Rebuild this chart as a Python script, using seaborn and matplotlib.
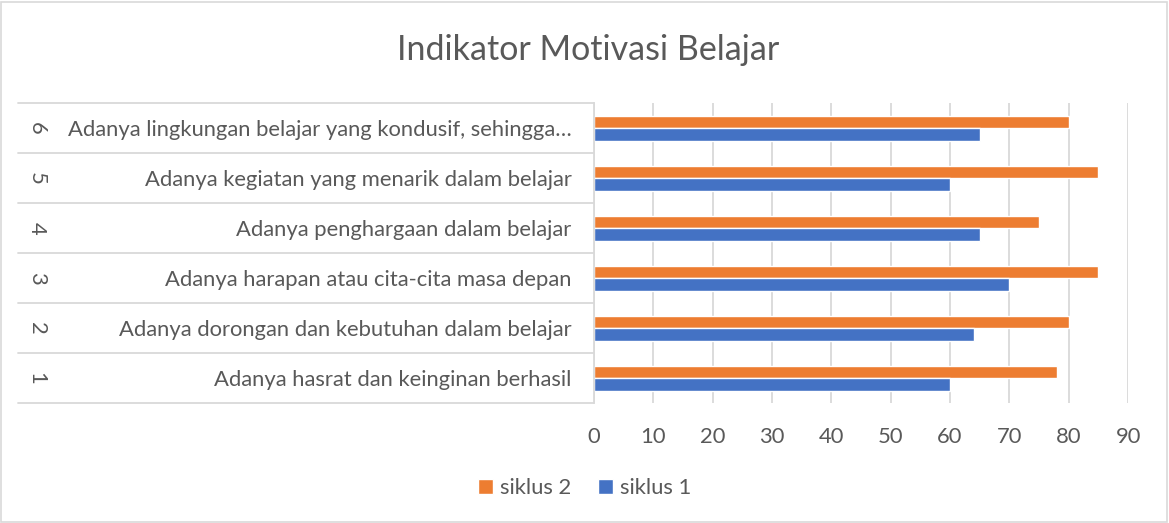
import numpy as np
import pandas as pd
import matplotlib
matplotlib.use('Agg')
import matplotlib.pyplot as plt
import seaborn as sns
from matplotlib.patches import Rectangle

# data (bottom to top in the picture: 1..6)
numbers = ['1', '2', '3', '4', '5', '6']
indicators = [
    'Adanya hasrat dan keinginan berhasil',
    'Adanya dorongan dan kebutuhan dalam belajar',
    'Adanya harapan atau cita-cita masa depan',
    'Adanya penghargaan dalam belajar',
    'Adanya kegiatan yang menarik dalam belajar',
    'Adanya lingkungan belajar yang kondusif, sehingga…',
]
siklus_1 = [60, 64, 70, 65, 60, 65]
siklus_2 = [78, 80, 85, 75, 85, 80]
x_ticks = [0, 10, 20, 30, 40, 50, 60, 70, 80, 90]

df = pd.DataFrame({
    'indikator': indicators * 2,
    'nilai': siklus_2 + siklus_1,
    'siklus': ['siklus 2'] * 6 + ['siklus 1'] * 6,
})

sns.set_theme(style='white')
plt.rcParams['font.family'] = ['Lato', 'DejaVu Sans']
text_color = '#595959'
grid_color = '#d9d9d9'
fs = 15.8

fig = plt.figure(figsize=(11.69, 5.23), dpi=100)
ax = fig.add_axes([0.508, 0.229, 0.457, 0.574])

order = indicators[::-1]  # top row first
sns.barplot(data=df, y='indikator', x='nilai', hue='siklus', order=order,
            hue_order=['siklus 2', 'siklus 1'],
            palette={'siklus 2': '#ED7D31', 'siklus 1': '#4472C4'},
            width=0.5, orient='h', ax=ax, legend=True, saturation=1)

ax.set_xlim(0, 90)
ax.set_ylim(5.5, -0.5)
ax.set_xticks(x_ticks)
ax.xaxis.grid(True, color=grid_color, linewidth=1.3)
ax.set_axisbelow(True)
ax.set_xlabel('')
ax.set_ylabel('')
for s in ['top', 'right', 'bottom']:
    ax.spines[s].set_visible(False)
ax.spines['left'].set_color(grid_color)
ax.spines['left'].set_linewidth(1.3)
ax.tick_params(axis='both', length=0, colors=text_color, labelsize=fs)
ax.tick_params(axis='x', pad=17)
ax.tick_params(axis='y', pad=16)

# outer category column: rotated numbers and separator lines
trans = matplotlib.transforms.blended_transform_factory(ax.transAxes, ax.transData)
left_x = (18 - 594) / 534
for i, num in enumerate(numbers[::-1]):
    ax.text((37 - 594) / 534, i, num, transform=trans, rotation=270,
            ha='center', va='center', fontsize=fs, color=text_color)
for b in np.arange(-0.5, 6, 1.0):
    ax.plot([left_x, 0], [b, b], transform=trans, color=grid_color,
            linewidth=1.3, clip_on=False)

ax.legend(loc='center', bbox_to_anchor=(0.5, 0.067), bbox_transform=fig.transFigure,
          ncol=2, frameon=False, fontsize=fs, handlelength=0.7, handleheight=0.7,
          handletextpad=0.3, columnspacing=1.2, labelcolor=text_color)

fig.text(0.503, 0.905, 'Indikator Motivasi Belajar', ha='center', va='center',
         fontsize=24.5, color=text_color)
fig.patches.append(Rectangle((0.001, 0.002), 0.997, 0.995, transform=fig.transFigure,
                             fill=False, edgecolor=grid_color, linewidth=1.2))

fig.savefig('out.png', dpi=100)
